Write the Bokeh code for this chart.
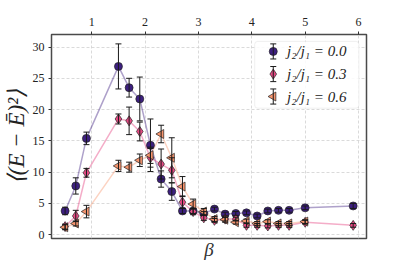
import numpy as np
from bokeh.plotting import figure
from bokeh.models import (Range1d, FixedTicker, Whisker, ColumnDataSource,
                          BoxAnnotation, TeeHead, LinearAxis)
from bokeh.core.properties import value
from bokeh.embed import file_html
from bokeh.resources import INLINE

# ---------------- data ----------------
beta = [0.5, 0.7, 0.9, 1.5, 1.7, 1.9, 2.1, 2.3, 2.5, 2.7, 2.9,
        3.1, 3.3, 3.5, 3.7, 3.9, 4.1, 4.3, 4.5, 4.7, 5.0, 5.9]

e_00 = [3.8, 7.8, 15.4, 26.9, 23.5, 21.7, 14.3, 8.9, 6.9, 3.8, 3.8,
        3.4, 4.1, 3.3, 3.4, 3.5, 3.0, 3.8, 3.9, 3.9, 4.3, 4.6]
err_00 = [0.6, 1.3, 1.0, 3.6, 1.5, 3.5, 4.2, 1.3, 1.4, 0.4, 0.4,
          0.3, 0.3, 0.3, 0.3, 0.3, 0.3, 0.3, 0.3, 0.3, 0.3, 0.4]

e_03 = [1.3, 3.0, 9.9, 18.5, 18.2, 16.5, 12.3, 11.3, 10.3, 5.2, 3.7,
        2.7, 2.3, 2.5, 2.5, 1.5, 1.5, 1.4, 1.5, 1.5, 2.0, 1.5]
err_03 = [0.4, 0.9, 0.7, 0.8, 2.2, 1.5, 1.5, 2.4, 2.0, 1.0, 0.5,
          0.4, 0.3, 0.3, 0.3, 0.3, 0.3, 0.3, 0.3, 0.3, 0.3, 0.3]

beta_06 = [0.5, 0.7, 0.9, 1.5, 1.7, 1.9, 2.1, 2.3, 2.5, 2.7, 2.9,
           3.1, 3.3, 3.5, 3.7, 3.9, 4.1, 4.3, 4.5, 4.7, 5.0]
e_06 = [1.2, 1.8, 3.7, 11.0, 10.8, 11.9, 12.7, 16.1, 12.3, 7.7, 4.9,
        3.7, 2.5, 2.4, 2.0, 2.2, 1.8, 2.1, 1.8, 1.8, 2.1]
err_06 = [0.4, 0.4, 1.0, 0.9, 0.8, 1.0, 1.3, 1.4, 3.2, 1.6, 0.8,
          0.5, 0.4, 0.4, 0.3, 0.3, 0.3, 0.3, 0.3, 0.3, 0.3]

labels = ["j\u2082/j\u2081 = 0.0", "j\u2082/j\u2081 = 0.3", "j\u2082/j\u2081 = 0.6"]
x_ticks = [1, 2, 3, 4, 5, 6]
y_ticks = [0, 5, 10, 15, 20, 25, 30]

FONT = "Liberation Serif"
colors = ["#3d1f80", "#e64a84", "#f8956e"]
line_alphas = [0.42, 0.45, 0.42]
markers = ["circle", "diamond", "triangle"]
msizes = [8, 10, 9]
angles = [0, 0, 90]

p = figure(frame_width=315, frame_height=204,
           x_range=Range1d(0.245, 6.15), y_range=Range1d(-0.6, 32),
           output_backend="svg", toolbar_location=None,
           x_axis_location="above",
           min_border_left=43, min_border_top=34, min_border_right=25, min_border_bottom=10)
p.background_fill_color = "white"
p.border_fill_color = "white"
p.outline_line_color = "#4a4a4a"
p.outline_line_width = 1.5

# top axis
top = p.xaxis[0]
top.ticker = FixedTicker(ticks=x_ticks)
top.axis_line_color = None
top.major_tick_out = 3
top.major_tick_in = 0
top.major_tick_line_color = "#333333"
top.minor_tick_line_color = None
top.major_label_text_font = FONT
top.major_label_text_font_size = "12px"
top.major_label_text_color = "#222222"
top.major_label_standoff = 6

# left axis
left = p.yaxis[0]
left.ticker = FixedTicker(ticks=y_ticks)
left.axis_line_color = None
left.major_tick_out = 3
left.major_tick_in = 0
left.major_tick_line_color = "#333333"
left.minor_tick_line_color = None
left.major_label_text_font = FONT
left.major_label_text_font_size = "12px"
left.major_label_text_color = "#222222"
left.major_label_standoff = 4
left.axis_label = "\u27e8(E \u2212 \u0112)\u00b2\u27e9"
left.axis_label_text_font = FONT
left.axis_label_text_font_style = "italic"
left.axis_label_text_font_size = "23px"
left.axis_label_text_color = "#222222"
left.axis_label_standoff = 1

# bottom axis carrying only the beta label
bottom = LinearAxis(ticker=FixedTicker(ticks=[]), axis_line_color=None,
                    major_tick_line_color=None, minor_tick_line_color=None,
                    major_label_text_font_size="0px", major_label_standoff=0,
                    major_tick_out=0, major_tick_in=0,
                    axis_label="\u03b2", axis_label_text_font=FONT,
                    axis_label_text_font_style="italic",
                    axis_label_text_font_size="19px", axis_label_text_color="#333333",
                    axis_label_standoff=0)
p.add_layout(bottom, "below")

p.xgrid.ticker = FixedTicker(ticks=x_ticks)
p.ygrid.ticker = FixedTicker(ticks=y_ticks)
for g in (p.xgrid, p.ygrid):
    g.grid_line_color = "#d0d0d0"
    g.grid_line_dash = "3 2"
    g.grid_line_width = 0.8

series = [(beta, e_00, err_00), (beta, e_03, err_03), (beta_06, e_06, err_06)]

for i, (xs, ys, es) in enumerate(series):
    src = ColumnDataSource(dict(x=xs, y=ys,
                                lo=[a - b for a, b in zip(ys, es)],
                                hi=[a + b for a, b in zip(ys, es)]))
    p.line("x", "y", source=src, line_color=colors[i], line_alpha=line_alphas[i], line_width=1.5)
    w = Whisker(source=src, base="x", lower="lo", upper="hi", dimension="height",
                line_color="#1a1a1a", line_width=1, level="glyph",
                upper_head=TeeHead(size=6, line_color="#1a1a1a", line_width=1),
                lower_head=TeeHead(size=6, line_color="#1a1a1a", line_width=1))
    p.add_layout(w)
for i, (xs, ys, es) in enumerate(series):
    p.scatter(xs, ys, marker=markers[i], size=msizes[i], angle=angles[i], angle_units="deg",
              fill_color=colors[i], line_color="#222222", line_width=0.7)

# legend drawn on a unit frame range
p.extra_x_ranges = {"leg": Range1d(0, 1)}
p.extra_y_ranges = {"leg": Range1d(0, 1)}
box = BoxAnnotation(left=0.645, right=0.976, bottom=0.639, top=0.966,
                    x_range_name="leg", y_range_name="leg",
                    fill_color="white", fill_alpha=0.85,
                    line_color="#cccccc", line_width=1, border_radius=3, level="annotation")
p.add_layout(box)
leg_y = [0.917, 0.806, 0.696]
src_leg = ColumnDataSource(dict(x=[0.704] * 3, y=leg_y,
                                lo=[v - 0.037 for v in leg_y], hi=[v + 0.037 for v in leg_y]))
wl = Whisker(source=src_leg, base="x", lower="lo", upper="hi", dimension="height",
             x_range_name="leg", y_range_name="leg",
             line_color="#1a1a1a", line_width=1, level="overlay",
             upper_head=TeeHead(size=6, line_color="#1a1a1a", line_width=1),
             lower_head=TeeHead(size=6, line_color="#1a1a1a", line_width=1))
p.add_layout(wl)
for i in range(3):
    p.scatter([0.704], [leg_y[i]], marker=markers[i], size=msizes[i], angle=angles[i],
              angle_units="deg", fill_color=colors[i], line_color="#222222", line_width=0.7,
              x_range_name="leg", y_range_name="leg", level="overlay")
p.text([0.748] * 3, leg_y, text=labels, x_range_name="leg", y_range_name="leg",
       text_font=value(FONT), text_font_style="italic", text_font_size="15px",
       text_baseline="middle", text_color="#222222", level="overlay")

open("out.html", "w").write(file_html(p, INLINE))
